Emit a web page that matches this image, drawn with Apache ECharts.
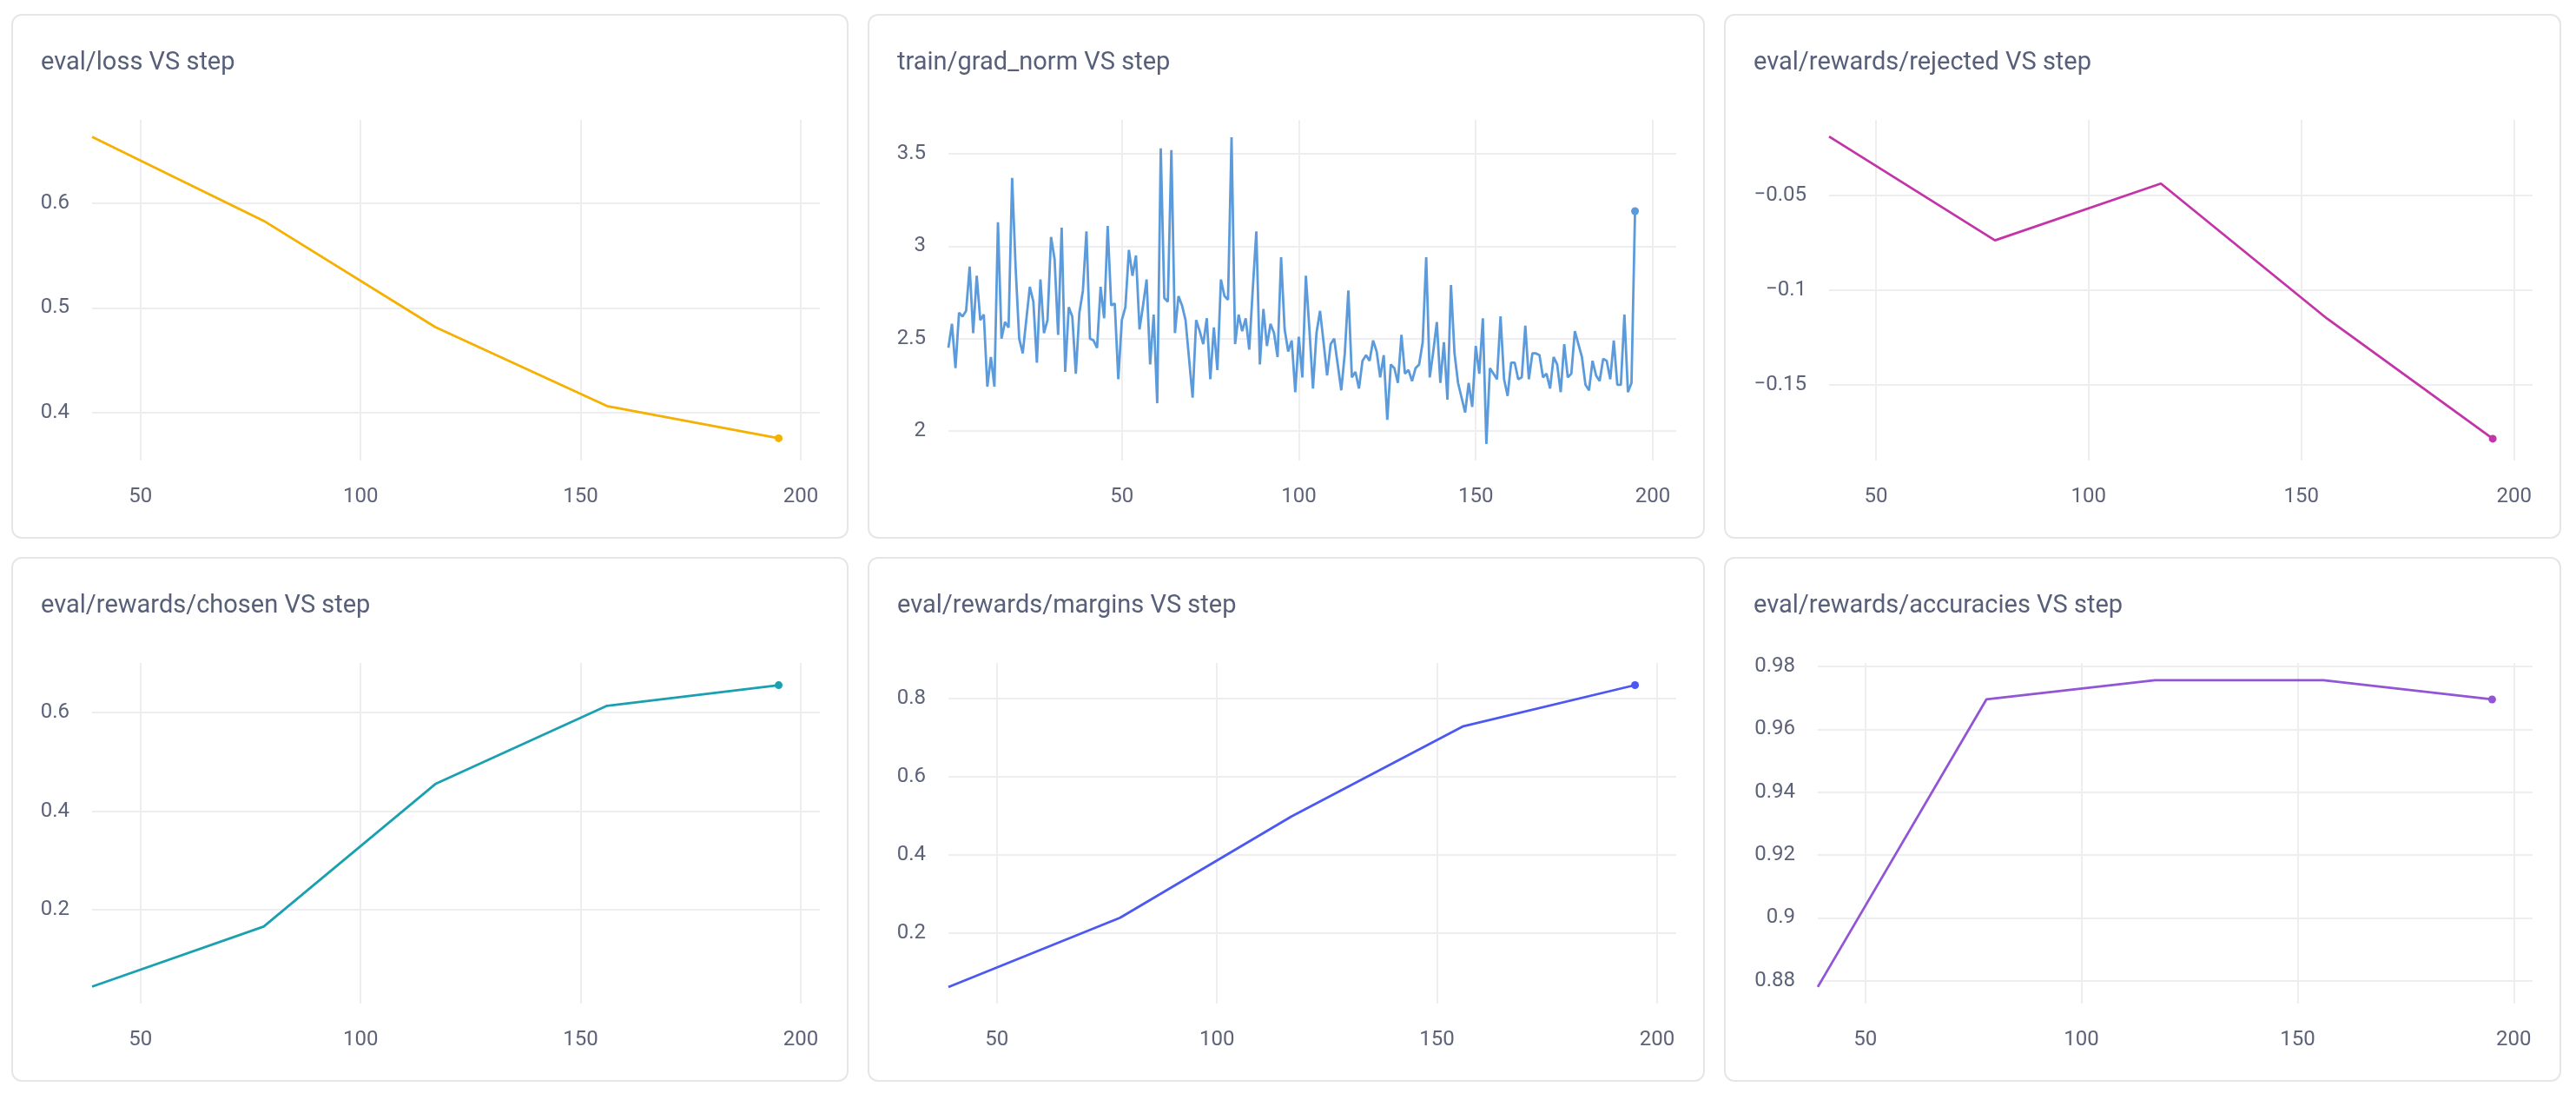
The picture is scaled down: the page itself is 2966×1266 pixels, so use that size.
<!DOCTYPE html>
<html>
<head>
<meta charset="utf-8">
<script src="https://cdn.jsdelivr.net/npm/echarts@6/dist/echarts.min.js"></script>
<style>
html,body{margin:0;padding:0;background:#ffffff;width:2966px;height:1266px;overflow:hidden;}
.panel{position:absolute;width:964px;height:604px;box-sizing:border-box;border:2px solid #e6e6e8;border-radius:12px;background:#fff;}
.chart{position:absolute;left:0;top:0;width:100%;height:100%;}
</style>
</head>
<body>
<div class="panel" style="left:13px;top:16px;"><div class="chart" id="c1"></div></div>
<div class="panel" style="left:999px;top:16px;"><div class="chart" id="c2"></div></div>
<div class="panel" style="left:1985px;top:16px;"><div class="chart" id="c3"></div></div>
<div class="panel" style="left:13px;top:641px;"><div class="chart" id="c4"></div></div>
<div class="panel" style="left:999px;top:641px;"><div class="chart" id="c5"></div></div>
<div class="panel" style="left:1985px;top:641px;"><div class="chart" id="c6"></div></div>
<script>
// ---------- data ----------
const evalSteps = [39, 78, 117, 156, 195];
const evalLoss = [0.6637, 0.5834, 0.4817, 0.4061, 0.3753];
const evalRejected = [-0.0190, -0.0738, -0.0438, -0.1150, -0.1785];
const evalChosen = [0.0437, 0.1656, 0.4552, 0.6140, 0.6559];
const evalMargins = [0.0617, 0.2389, 0.4985, 0.7290, 0.8343];
const evalAccuracies = [0.8780, 0.9695, 0.9756, 0.9756, 0.9695];

const trainSteps = [
  1,2,3,4,5,6,7,8,9,10,11,12,13,14,15,16,17,18,19,20,
  21,22,23,24,25,26,27,28,29,30,31,32,33,34,35,36,37,38,39,40,
  41,42,43,44,45,46,47,48,49,50,51,52,53,54,55,56,57,58,59,60,
  61,62,63,64,65,66,67,68,69,70,71,72,73,74,75,76,77,78,79,80,
  81,82,83,84,85,86,87,88,89,90,91,92,93,94,95,96,97,98,99,100,
  101,102,103,104,105,106,107,108,109,110,111,112,113,114,115,116,117,118,119,120,
  121,122,123,124,125,126,127,128,129,130,131,132,133,134,135,136,137,138,139,140,
  141,142,143,144,145,146,147,148,149,150,151,152,153,154,155,156,157,158,159,160,
  161,162,163,164,165,166,167,168,169,170,171,172,173,174,175,176,177,178,179,180,
  181,182,183,184,185,186,187,188,189,190,191,192,193,194,195
];
const gradNorm = [
  2.45,2.58,2.34,2.64,2.62,2.65,2.89,2.53,2.84,2.60,2.63,2.24,2.40,2.24,3.13,2.50,2.59,2.56,3.37,2.88,
  2.50,2.42,2.60,2.78,2.70,2.37,2.82,2.53,2.60,3.05,2.93,2.52,3.10,2.32,2.67,2.62,2.31,2.64,2.76,3.08,
  2.50,2.49,2.45,2.78,2.61,3.11,2.68,2.69,2.28,2.60,2.67,2.98,2.84,2.95,2.55,2.68,2.82,2.36,2.63,2.15,
  3.53,2.72,2.70,3.52,2.53,2.73,2.68,2.60,2.39,2.18,2.60,2.54,2.47,2.61,2.28,2.56,2.33,2.82,2.73,2.71,
  3.59,2.47,2.63,2.54,2.61,2.44,2.77,3.08,2.36,2.66,2.46,2.58,2.53,2.40,2.94,2.55,2.43,2.49,2.21,2.51,
  2.29,2.84,2.55,2.23,2.53,2.65,2.48,2.30,2.47,2.50,2.36,2.22,2.42,2.76,2.29,2.32,2.23,2.38,2.41,2.38,
  2.49,2.43,2.29,2.41,2.06,2.36,2.34,2.26,2.52,2.31,2.33,2.27,2.34,2.36,2.48,2.94,2.29,2.43,2.59,2.26,
  2.48,2.17,2.79,2.42,2.26,2.18,2.10,2.26,2.13,2.46,2.31,2.61,1.93,2.34,2.31,2.28,2.62,2.28,2.19,2.37,
  2.37,2.28,2.29,2.57,2.28,2.42,2.42,2.41,2.29,2.31,2.23,2.40,2.36,2.21,2.47,2.29,2.31,2.54,2.47,2.40,
  2.25,2.22,2.38,2.30,2.27,2.39,2.38,2.28,2.49,2.25,2.25,2.63,2.21,2.26,3.19
];

const xTicks = [50, 100, 150, 200];
const lossTicks = [0.4, 0.5, 0.6];
const gradTicks = [2, 2.5, 3, 3.5];
const rejectedTicks = [-0.15, -0.1, -0.05];
const chosenTicks = [0.2, 0.4, 0.6];
const marginsTicks = [0.2, 0.4, 0.6, 0.8];
const accuracyTicks = [0.88, 0.9, 0.92, 0.94, 0.96, 0.98];

// ---------- style ----------
const TEXT = '#586079';
const LABEL = '#5c6379';
const GRID = '#eeeef0';
const FONT = 'Roboto, "Noto Sans", sans-serif';

const panels = [
  {id:'c1', title:'eval/loss VS step', x:evalSteps, y:evalLoss, ticks:lossTicks, yMin:0.354, yMax:0.680, left:91, color:'#f5b000'},
  {id:'c2', title:'train/grad_norm VS step', x:trainSteps, y:gradNorm, ticks:gradTicks, yMin:1.84, yMax:3.684, left:91, color:'#5b9bdc'},
  {id:'c3', title:'eval/rewards/rejected VS step', x:evalSteps, y:evalRejected, ticks:rejectedTicks, yMin:-0.190, yMax:-0.0102, left:119, color:'#c234a8'},
  {id:'c4', title:'eval/rewards/chosen VS step', x:evalSteps, y:evalChosen, ticks:chosenTicks, yMin:0.0093, yMax:0.701, left:91, color:'#1aa0b0'},
  {id:'c5', title:'eval/rewards/margins VS step', x:evalSteps, y:evalMargins, ticks:marginsTicks, yMin:0.0193, yMax:0.891, left:91, color:'#4b58f2'},
  {id:'c6', title:'eval/rewards/accuracies VS step', x:evalSteps, y:evalAccuracies, ticks:accuracyTicks, yMin:0.8727, yMax:0.9811, left:106, color:'#9155d6'}
];

function fmt(v){ return String(v).replace('-', '\u2212'); }

panels.forEach(function(p){
  const chart = echarts.init(document.getElementById(p.id), null, {renderer:'canvas'});
  const n = p.x.length;
  const data = p.x.map(function(s, i){ return [s, p.y[i]]; });
  const xMin = p.x[0];
  const xMax = p.x[n-1] + 0.06 * (p.x[n-1] - p.x[0]);
  chart.setOption({
    animation: false,
    title: {
      text: p.title, left: 32, top: 40, padding: 0,
      textStyle: {fontFamily: FONT, fontSize: 29, fontWeight: 'normal', color: TEXT}
    },
    grid: {left: p.left, right: 31, top: 120, bottom: 88},
    xAxis: {
      type: 'value', min: xMin, max: xMax,
      axisLine: {show: false},
      axisTick: {show: false, customValues: xTicks},
      axisLabel: {customValues: xTicks, margin: 30, fontSize: 24, color: LABEL, fontFamily: FONT},
      splitLine: {show: true, lineStyle: {color: GRID, width: 2}}
    },
    yAxis: {
      type: 'value', min: p.yMin, max: p.yMax,
      axisLine: {show: false},
      axisTick: {show: false, customValues: p.ticks},
      axisLabel: {customValues: p.ticks, margin: 26, fontSize: 24, color: LABEL, fontFamily: FONT, formatter: fmt},
      splitLine: {show: true, lineStyle: {color: GRID, width: 2}}
    },
    series: [{
      type: 'line', data: data,
      showSymbol: true, symbol: 'circle',
      symbolSize: function(v, params){ return params.dataIndex === n - 1 ? 9 : 0; },
      lineStyle: {color: p.color, width: 2.8},
      itemStyle: {color: p.color},
      emphasis: {disabled: true}
    }]
  });
});
</script>
</body>
</html>
